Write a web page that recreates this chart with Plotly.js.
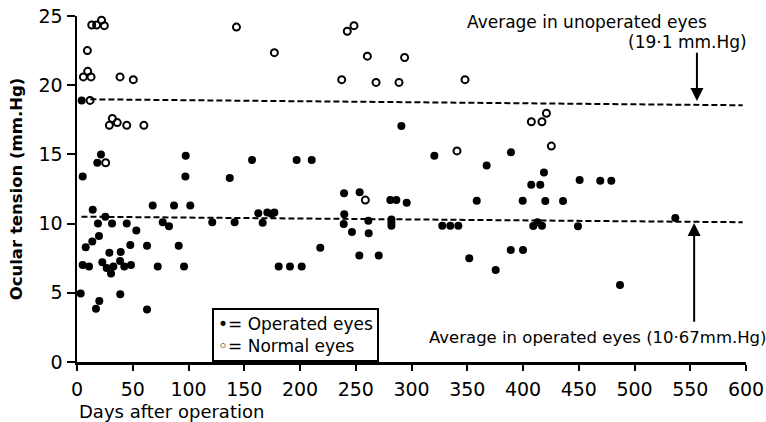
<!DOCTYPE html>
<html>
<head>
<meta charset="utf-8">
<script src="https://cdn.plot.ly/plotly-3.0.1.min.js"></script>
<style>html,body{margin:0;padding:0;background:#fff;}#chart{width:766px;height:422px;}</style>
</head>
<body>
<div id="chart"></div>
<script>
// Operated eyes (filled dots): days after operation, ocular tension (mm.Hg)
const operatedDays = [
  4.2, 21.5, 18.2, 5.1, 97.5, 97.2, 137, 157, 14.1, 25.4, 18.8, 31.4, 44.6, 53.2, 67.9, 76.9,
  82.5, 87, 101.6, 121.3, 141.4, 7.8, 13.7, 19.7, 29, 39.2, 47.8, 62.8, 91.2, 5.1, 10.8, 22.7,
  26.6, 30.5, 32.6, 38.6, 42.4, 48.4, 72.4, 96, 3.3, 38.8, 20, 17, 62.8,
  162.6, 166.5, 170.7, 174.6, 177, 197, 210.5, 239.5, 253.5, 239.7, 239.2, 246.6, 261.3, 261.6,
  281, 286.4, 295.7, 282, 282, 282, 327.6, 334.8, 342, 218.2, 180.9, 191, 201.5, 253.2, 270.6,
  351.8, 290.9, 320.5,
  389.2, 367.4, 418.8, 407.4, 415.5, 450.8, 469.3, 479.2, 358.5, 399.7, 420, 435.9, 409.2, 413,
  417, 449.3, 536.6, 389, 400, 375.5, 487
];
const operatedTension = [
  18.9, 15.0, 14.4, 13.4, 14.9, 13.4, 13.3, 14.6, 11.0, 10.5, 10.0, 10.0, 10.0, 9.5, 11.3, 10.1,
  9.8, 11.3, 11.3, 10.1, 10.1, 8.3, 8.7, 9.1, 7.9, 7.95, 8.45, 8.4, 8.4, 7.0, 6.9, 7.2,
  6.8, 6.4, 6.9, 7.3, 6.9, 7.0, 6.9, 6.9, 4.95, 4.9, 4.4, 3.85, 3.8,
  10.75, 10.07, 10.8, 10.7, 10.8, 14.6, 14.6, 12.2, 12.26, 10.67, 9.97, 9.4, 10.2, 9.3,
  11.7, 11.7, 11.5, 10.3, 10.07, 9.85, 9.85, 9.85, 9.85, 8.26, 6.9, 6.9, 6.9, 7.7, 7.7,
  7.5, 17.05, 14.9,
  15.15, 14.2, 13.7, 12.8, 12.8, 13.15, 13.1, 13.1, 11.65, 11.65, 11.63, 11.63, 9.83, 10.1,
  9.85, 9.8, 10.4, 8.1, 8.1, 6.65, 5.56
];
// Normal eyes (open circles)
const normalDays = [
  13.2, 17.6, 22, 24.5, 9.3, 9.6, 5.7, 12.6, 38.6, 50.5, 11.7, 31.7, 29, 36.1, 44.6, 60,
  143, 25.7, 177, 242.4, 248.4, 260.4, 293.8, 237.4, 268.2, 288.8, 348, 340.8, 258.6,
  407.5, 417, 421, 425.4
];
const normalTension = [
  24.35, 24.35, 24.7, 24.3, 22.5, 21.0, 20.6, 20.6, 20.6, 20.4, 18.9, 17.6, 17.1, 17.3, 17.1, 17.1,
  24.2, 14.4, 22.35, 23.9, 24.3, 22.1, 22.0, 20.4, 20.2, 20.2, 20.4, 15.25, 11.7,
  17.36, 17.36, 17.97, 15.6
];
// Average lines as drawn (slightly skewed in the scan)
const avgUnoperatedDays = [12, 597];
const avgUnoperatedTension = [18.98, 18.55];
const avgOperatedDays = [4, 597];
const avgOperatedTension = [10.5, 10.1];
// Arrows
const arrowUpperDay = 556, arrowUpperFrom = 22.45, arrowUpperTo = 18.85;
const arrowLowerDay = 553.5, arrowLowerFrom = 2.8, arrowLowerTo = 10.05;
// Ticks
const xTickVals = [0, 50, 100, 150, 200, 250, 300, 350, 400, 450, 500, 550, 600];
const xTickText = xTickVals.map(String);
const yTickVals = [0, 5, 10, 15, 20, 25];
const yTickText = yTickVals.map(String);
// Labels
const legendLines = ['•= Operated eyes', '◦= Normal eyes'];

const FONT = 'DejaVu Sans, Noto Sans, sans-serif';

const traces = [
  {
    x: avgUnoperatedDays, y: avgUnoperatedTension, mode: 'lines', showlegend: false, hoverinfo: 'skip',
    line: {color: '#000', width: 2, dash: '6px,3px'}
  },
  {
    x: avgOperatedDays, y: avgOperatedTension, mode: 'lines', showlegend: false, hoverinfo: 'skip',
    line: {color: '#000', width: 2, dash: '6px,3px'}
  },
  {
    x: operatedDays, y: operatedTension, mode: 'markers', name: 'Operated eyes', showlegend: false,
    marker: {symbol: 'circle', size: 8, color: '#000'}, cliponaxis: false
  },
  {
    x: normalDays, y: normalTension, mode: 'markers', name: 'Normal eyes', showlegend: false,
    marker: {symbol: 'circle-open', size: 7, color: '#000', line: {width: 2, color: '#000'}}, cliponaxis: false
  }
];

const layout = {
  width: 766, height: 422,
  margin: {l: 77, r: 20, t: 16, b: 60},
  paper_bgcolor: '#fff', plot_bgcolor: '#fff',
  font: {family: FONT, color: '#000'},
  showlegend: false,
  xaxis: {
    range: [0, 600], tickmode: 'array', tickvals: xTickVals, ticktext: xTickText,
    ticks: 'outside', ticklen: 6, tickwidth: 2, tickcolor: '#000',
    showline: true, linewidth: 2.5, linecolor: '#000', mirror: false,
    showgrid: false, zeroline: false, fixedrange: true,
    tickfont: {family: FONT, size: 19, color: '#000'}, ticklabelstandoff: 3
  },
  yaxis: {
    range: [0, 25], tickmode: 'array', tickvals: yTickVals, ticktext: yTickText,
    ticks: 'outside', ticklen: 8, tickwidth: 2, tickcolor: '#000',
    showline: true, linewidth: 2.5, linecolor: '#000',
    showgrid: false, zeroline: false, fixedrange: true,
    tickfont: {family: FONT, size: 19, color: '#000'},
    title: {text: 'Ocular tension (mm.Hg)', font: {family: FONT, size: 16.5, weight: 'bold', color: '#000'}, standoff: 12}
  },
  annotations: [
    {xref: 'paper', yref: 'paper', x: (587 - 77) / 669, y: (362 - 22) / 346, xanchor: 'center', yanchor: 'middle', showarrow: false,
     text: 'Average in unoperated eyes', font: {family: FONT, size: 17, color: '#000'}},
    {xref: 'paper', yref: 'paper', x: (749 - 77) / 669, y: (362 - 42) / 346, xanchor: 'right', yanchor: 'middle', showarrow: false,
     text: '(19·1 mm.Hg)', font: {family: FONT, size: 17, color: '#000'}},
    {xref: 'paper', yref: 'paper', x: (427 - 77) / 669, y: (362 - 337) / 346, xanchor: 'left', yanchor: 'middle', showarrow: false,
     text: 'Average in operated eyes (10·67mm.Hg)', font: {family: FONT, size: 16.5, color: '#000'}},
    {xref: 'paper', yref: 'paper', x: 0, y: (362 - 411) / 346, xanchor: 'left', yanchor: 'middle', showarrow: false,
     text: 'Days after operation', font: {family: FONT, size: 18, color: '#000'}},
    {xref: 'paper', yref: 'paper', x: (212 - 77) / 669, y: (362 - 308) / 346, xanchor: 'left', yanchor: 'top', showarrow: false,
     align: 'left', bordercolor: '#000', borderwidth: 2, borderpad: 4, bgcolor: '#fff',
     text: legendLines.join('<br>'), font: {family: FONT, size: 17, color: '#000'}},
    {xref: 'x', yref: 'y', axref: 'x', ayref: 'y', x: arrowUpperDay, y: arrowUpperTo, ax: arrowUpperDay, ay: arrowUpperFrom,
     text: '', showarrow: true, arrowhead: 2, arrowsize: 1.3, arrowwidth: 2, arrowcolor: '#000'},
    {xref: 'x', yref: 'y', axref: 'x', ayref: 'y', x: arrowLowerDay, y: arrowLowerTo, ax: arrowLowerDay, ay: arrowLowerFrom,
     text: '', showarrow: true, arrowhead: 2, arrowsize: 1.3, arrowwidth: 2, arrowcolor: '#000'}
  ]
};

Plotly.newPlot('chart', traces, layout, {staticPlot: true, displayModeBar: false});
</script>
</body>
</html>
